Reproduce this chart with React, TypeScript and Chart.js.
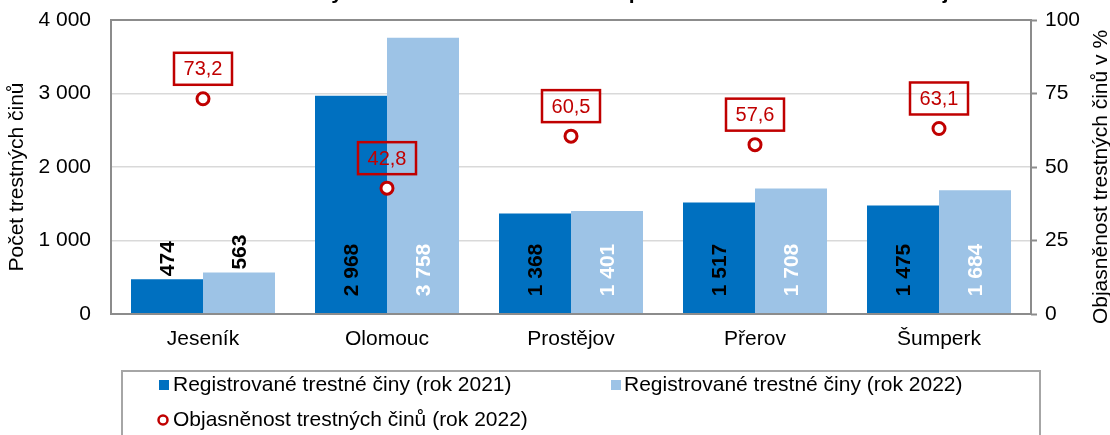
import React, { useEffect, useRef } from 'react';
import { Chart, registerables } from 'chart.js';

Chart.register(...registerables);

const categories = ['Jeseník', 'Olomouc', 'Prostějov', 'Přerov', 'Šumperk'];
const crimes2021 = [474, 2968, 1368, 1517, 1475];
const crimes2022 = [563, 3758, 1401, 1708, 1684];
const clearance2022 = [73.2, 42.8, 60.5, 57.6, 63.1];
const leftTicks = [0, 1000, 2000, 3000, 4000];
const rightTicks = [0, 25, 50, 75, 100];
const seriesLabels = [
  'Registrované trestné činy (rok 2021)',
  'Registrované trestné činy (rok 2022)',
  'Objasněnost trestných činů (rok 2022)',
];
const leftAxisTitle = 'Počet trestných činů';
const rightAxisTitle = 'Objasněnost trestných činů v %';
const chartTitle = 'Počet trestných činů v letech 2021 a 2022 podle okresů Olomouckého kraje';

const COLOR_2021 = '#0070C0';
const COLOR_2022 = '#9DC3E6';
const COLOR_RED = '#C00000';
const FONT = "'Liberation Sans', Arial, sans-serif";
const FS = 21;
const TOP = 20; // canvas is shifted up by this many pixels

const fmtThousands = (v: number) => String(v).replace(/\B(?=(\d{3})+(?!\d))/g, ' ');
const fmtDecimal = (v: number) => v.toFixed(1).replace('.', ',');

const customPlugin = {
  id: 'customDecor',
  afterDatasetsDraw(chart: any) {
    const ctx = chart.ctx as CanvasRenderingContext2D;
    const a = chart.chartArea;
    // plot border
    ctx.save();
    ctx.strokeStyle = '#8c8c8c';
    ctx.lineWidth = 2;
    ctx.strokeRect(a.left, a.top, a.right - a.left, a.bottom - a.top);
    ctx.restore();

    // bar value labels
    ctx.save();
    ctx.font = `bold ${FS}px ${FONT}`;
    ctx.textBaseline = 'middle';
    ctx.textAlign = 'left';
    [0, 1].forEach((di) => {
      const meta = chart.getDatasetMeta(di);
      const values = chart.data.datasets[di].data as number[];
      meta.data.forEach((bar: any, i: number) => {
        const txt = fmtThousands(values[i]);
        const w = ctx.measureText(txt).width;
        const h = bar.base - bar.y;
        let start: number;
        let color = '#000';
        if (h > w + 26) {
          start = bar.base - 17;
          color = di === 0 ? '#000' : '#fff';
        } else {
          start = bar.y - 3;
        }
        ctx.save();
        ctx.translate(bar.x + 1, start);
        ctx.rotate(-Math.PI / 2);
        ctx.fillStyle = color;
        ctx.fillText(txt, 0, 0);
        ctx.restore();
      });
    });
    ctx.restore();

    // point labels
    const pm = chart.getDatasetMeta(2);
    const pv = chart.data.datasets[2].data as number[];
    ctx.save();
    ctx.font = `20px ${FONT}`;
    ctx.textAlign = 'center';
    ctx.textBaseline = 'middle';
    pm.data.forEach((pt: any, i: number) => {
      const bw = 58;
      const bh = 32;
      const bottom = pt.y - 14;
      const top = bottom - bh;
      ctx.strokeStyle = COLOR_RED;
      ctx.lineWidth = 2.5;
      ctx.strokeRect(pt.x - bw / 2, top, bw, bh);
      ctx.fillStyle = COLOR_RED;
      ctx.fillText(fmtDecimal(pv[i]), pt.x, top + bh / 2 + 1);
    });
    ctx.restore();
  },
  afterDraw(chart: any) {
    const ctx = chart.ctx as CanvasRenderingContext2D;
    const midY = TOP + 177;
    ctx.save();
    // title (mostly cut off above the viewport)
    ctx.font = `bold 21px ${FONT}`;
    ctx.fillStyle = '#000';
    ctx.textAlign = 'center';
    ctx.textBaseline = 'alphabetic';
    ctx.fillText(chartTitle, 585, TOP - 1);

    // axis titles
    ctx.font = `${FS}px ${FONT}`;
    ctx.textBaseline = 'middle';
    ctx.save();
    ctx.translate(17, midY);
    ctx.rotate(-Math.PI / 2);
    ctx.fillText(leftAxisTitle, 0, 0);
    ctx.restore();
    ctx.save();
    ctx.translate(1101, midY);
    ctx.rotate(-Math.PI / 2);
    ctx.fillText(rightAxisTitle, 0, 0);
    ctx.restore();

    // legend
    const lt = TOP + 371;
    ctx.strokeStyle = '#a6a6a6';
    ctx.lineWidth = 2;
    ctx.strokeRect(122, lt, 1040 - 122, 120);
    ctx.textAlign = 'left';
    const row1 = TOP + 385;
    const row2 = TOP + 420;
    ctx.fillStyle = COLOR_2021;
    ctx.fillRect(159, row1 - 5, 10, 10);
    ctx.fillStyle = '#000';
    ctx.fillText(seriesLabels[0], 173, row1);
    ctx.fillStyle = COLOR_2022;
    ctx.fillRect(611, row1 - 5, 10, 10);
    ctx.fillStyle = '#000';
    ctx.fillText(seriesLabels[1], 624, row1);
    ctx.beginPath();
    ctx.arc(163, row2, 4.5, 0, Math.PI * 2);
    ctx.strokeStyle = COLOR_RED;
    ctx.lineWidth = 2.5;
    ctx.stroke();
    ctx.fillStyle = '#000';
    ctx.fillText(seriesLabels[2], 173, row2);
    ctx.restore();
  },
};

export default function App() {
  const ref = useRef<HTMLCanvasElement | null>(null);
  useEffect(() => {
    if (!ref.current) return;
    const chart = new Chart(ref.current, {
      type: 'bar',
      data: {
        labels: categories,
        datasets: [
          {
            type: 'bar',
            label: seriesLabels[0],
            data: crimes2021,
            backgroundColor: COLOR_2021,
            yAxisID: 'y',
            categoryPercentage: 0.7826,
            barPercentage: 1.0,
            order: 1,
          },
          {
            type: 'bar',
            label: seriesLabels[1],
            data: crimes2022,
            backgroundColor: COLOR_2022,
            yAxisID: 'y',
            categoryPercentage: 0.7826,
            barPercentage: 1.0,
            order: 1,
          },
          {
            type: 'line',
            label: seriesLabels[2],
            data: clearance2022,
            yAxisID: 'y1',
            showLine: false,
            pointRadius: 6,
            pointBorderWidth: 3,
            pointBackgroundColor: '#fff',
            pointBorderColor: COLOR_RED,
            order: 0,
          } as any,
        ],
      },
      options: {
        responsive: false,
        animation: false,
        devicePixelRatio: 1,
        layout: { padding: { top: TOP + 20, left: 0, right: 0, bottom: 0 } },
        plugins: {
          legend: { display: false },
          title: { display: false },
          tooltip: { enabled: false },
        },
        scales: {
          x: {
            grid: { display: false },
            border: { display: false },
            ticks: { font: { family: FONT, size: FS }, color: '#000', padding: 5 },
            afterFit: (s: any) => {
              s.height = 121;
            },
          },
          y: {
            position: 'left',
            min: leftTicks[0],
            max: leftTicks[leftTicks.length - 1],
            afterBuildTicks: (s: any) => {
              s.ticks = leftTicks.map((v) => ({ value: v }));
            },
            grid: { color: '#d9d9d9', lineWidth: 1.5, drawTicks: false },
            border: { display: false },
            ticks: {
              font: { family: FONT, size: FS },
              color: '#000',
              padding: 20,
              callback: (v: any) => fmtThousands(Number(v)),
            },
            afterFit: (s: any) => {
              s.width = 111;
            },
          },
          y1: {
            position: 'right',
            min: rightTicks[0],
            max: rightTicks[rightTicks.length - 1],
            afterBuildTicks: (s: any) => {
              s.ticks = rightTicks.map((v) => ({ value: v }));
            },
            grid: {
              drawOnChartArea: false,
              drawTicks: true,
              tickLength: 6,
              tickColor: '#8c8c8c',
              tickWidth: 2,
            },
            border: { display: false },
            ticks: {
              font: { family: FONT, size: FS },
              color: '#000',
              padding: 8,
            },
            afterFit: (s: any) => {
              s.width = 79;
            },
          },
        },
      },
      plugins: [customPlugin],
    });
    return () => chart.destroy();
  }, []);

  return (
    <div style={{ position: 'fixed', left: 0, top: -TOP, width: 1110, height: 435 + TOP }}>
      <canvas ref={ref} width={1110} height={435 + TOP} style={{ display: 'block' }} />
    </div>
  );
}
